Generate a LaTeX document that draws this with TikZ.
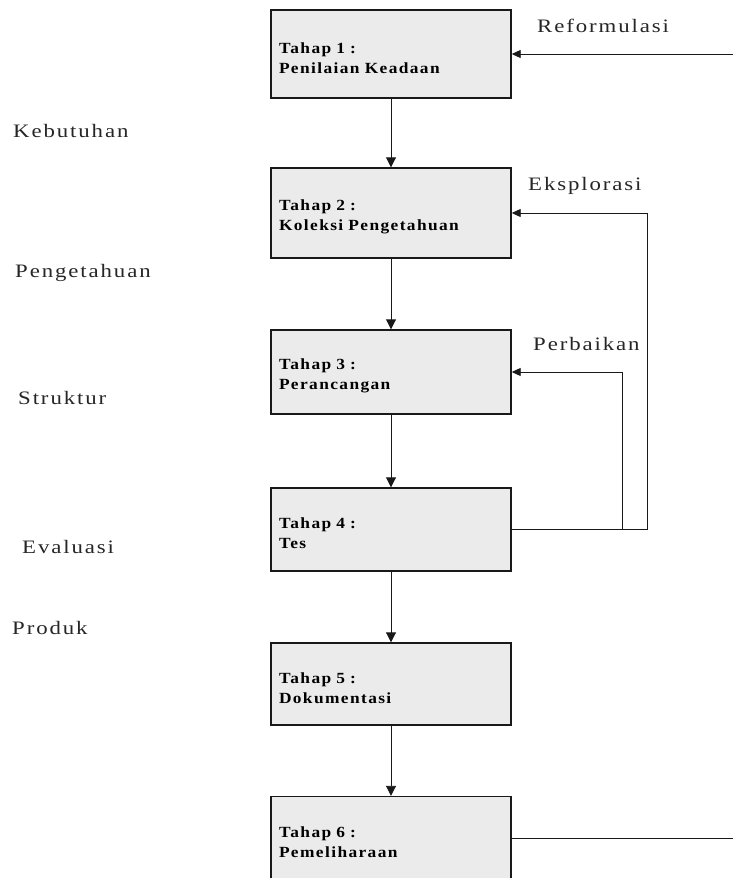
\documentclass[tikz,border=0pt]{standalone}
\usepackage{fontspec}
\usetikzlibrary{arrows.meta}
\newfontfamily\lblfont[FakeStretch=1.2,LetterSpace=10]{Liberation Serif}
\newfontfamily\stagefont[FakeStretch=1.12,LetterSpace=9]{Liberation Serif}
\tikzset{
  stagebox/.style={draw=black!90, line width=1.4pt, fill=black!8,
    minimum width=240pt, text width=224pt, inner xsep=8pt, inner ysep=0pt,
    align=left, font=\stagefont\bfseries\fontsize{15.5pt}{20pt}\selectfont,
    execute at begin node={\rule{0pt}{19pt}}},
  sidelabel/.style={anchor=base west, inner sep=0pt,
    font=\lblfont\fontsize{19pt}{22pt}\selectfont, text=black!85},
  flow/.style={draw=black!90, line width=0.9pt,
    -{Triangle[length=10pt,width=10pt]}},
  backflow/.style={draw=black!90, line width=0.9pt,
    -{Triangle[length=9pt,width=8pt]}},
  plainline/.style={draw=black!90, line width=0.9pt},
}
\begin{document}
\begin{tikzpicture}[x=1pt,y=-1pt]
  \clip (0,0) rectangle (733,878);
  \fill[white] (0,0) rectangle (733,878);

  % stages
  \node[stagebox, minimum height=88pt] (s1) at (391,54)
    {Tahap 1 :\\Penilaian Keadaan};
  \node[stagebox, minimum height=90pt] (s2) at (391,213)
    {Tahap 2 :\\Koleksi Pengetahuan};
  \node[stagebox, minimum height=84pt] (s3) at (391,372)
    {Tahap 3 :\\Perancangan};
  \node[stagebox, minimum height=83pt] (s4) at (391,529.5)
    {Tahap 4 :\\Tes};
  \node[stagebox, minimum height=82pt] (s5) at (391,684)
    {Tahap 5 :\\Dokumentasi};
  \node[stagebox, minimum height=83pt] (s6) at (391,838)
    {Tahap 6 :\\Pemeliharaan};

  % outputs between stages
  \node[sidelabel] (l1) at (13,137) {Kebutuhan};
  \node[sidelabel] (l2) at (15,277) {Pengetahuan};
  \node[sidelabel] (l3) at (18,404) {Struktur};
  \node[sidelabel] (l4) at (22,553) {Evaluasi};
  \node[sidelabel] (l5) at (12,634) {Produk};

  % feedback labels
  \node[sidelabel] (f1) at (537,32) {Reformulasi};
  \node[sidelabel] (f2) at (528,190) {Eksplorasi};
  \node[sidelabel] (f3) at (533,350) {Perbaikan};

  % helper coordinates for the feedback lines
  \coordinate (rim) at (733,0);
  \coordinate (xloop) at (647,0);
  \coordinate (yloop) at (622,0);

  % main flow
  \draw[flow] (s1) -- (s2);
  \draw[flow] (s2) -- (s3);
  \draw[flow] (s3) -- (s4);
  \draw[flow] (s4) -- (s5);
  \draw[flow] (s5) -- (s6);

  % feedback loops
  \draw[backflow] (s1.east -| rim) -- (s1.east);
  \draw[backflow] (s4.east) -- (s4.east -| xloop) |- (s2.east);
  \draw[backflow] (s4.east -| yloop) |- (s3.east);
  \draw[plainline] (s6.east) -- (s6.east -| rim);
\end{tikzpicture}
\end{document}
